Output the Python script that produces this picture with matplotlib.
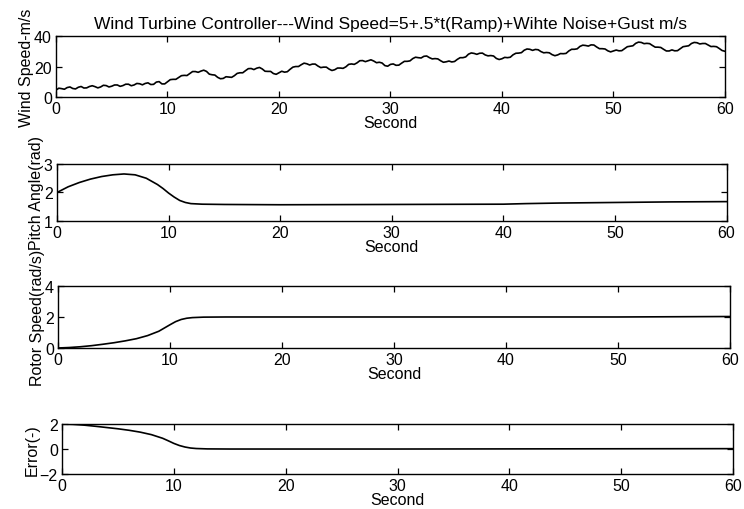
import matplotlib
matplotlib.use("Agg")
import matplotlib.pyplot as plt
import numpy as np

plt.rcParams['font.family'] = ['Liberation Sans', 'DejaVu Sans']

# ---- data ----
wind_speed = [
    4.5, 5.8, 5.5, 5.1, 6.2, 6.6, 5.6, 5.3, 6.4, 6.9, 5.9, 6.0, 6.9, 7.4, 6.8, 6.0, 6.6, 7.7, 7.5, 6.6,
    7.1, 7.9, 7.9, 7.0, 7.5, 8.4, 8.4, 7.4, 7.9, 8.9, 8.7, 8.0, 8.9, 9.3, 8.2, 8.3, 9.8, 10.1, 8.6, 8.6,
    10.0, 11.4, 11.6, 11.6, 12.8, 14.0, 14.2, 14.1, 15.4, 16.7, 16.7, 16.2, 17.0, 17.6, 16.8, 15.0, 14.6, 14.4, 12.9, 12.0,
    12.2, 13.3, 13.1, 12.9, 14.0, 15.5, 15.9, 15.9, 17.3, 18.6, 18.7, 18.0, 18.9, 19.4, 18.4, 16.9, 16.8, 16.8, 15.4, 14.9,
    15.9, 16.9, 16.3, 16.6, 18.2, 19.6, 20.0, 20.0, 21.2, 22.2, 21.8, 21.0, 21.6, 21.6, 20.3, 19.3, 19.6, 19.6, 18.3, 17.4,
    17.9, 19.0, 19.0, 18.8, 19.8, 21.4, 21.7, 21.4, 22.4, 23.8, 23.9, 23.2, 23.8, 24.4, 23.6, 22.5, 22.8, 22.3, 20.6, 20.2,
    21.4, 21.7, 20.8, 20.9, 22.2, 23.4, 23.4, 23.7, 25.2, 26.1, 25.8, 25.6, 26.7, 26.9, 25.8, 25.0, 25.2, 25.0, 23.8, 22.8,
    23.1, 23.6, 23.0, 23.3, 24.7, 25.8, 25.8, 26.3, 28.1, 28.9, 28.6, 28.0, 28.7, 28.8, 27.6, 27.0, 27.2, 26.9, 25.3, 24.6,
    25.1, 26.0, 25.8, 26.1, 27.7, 28.7, 28.8, 29.1, 30.7, 31.5, 31.3, 30.6, 31.2, 31.0, 29.8, 29.0, 29.2, 29.0, 27.8, 27.1,
    27.6, 28.5, 28.4, 28.6, 30.2, 31.3, 31.3, 31.6, 33.2, 34.0, 33.8, 33.4, 34.2, 34.1, 32.8, 31.7, 31.7, 31.5, 30.3, 29.6,
    30.2, 30.8, 30.3, 30.4, 31.7, 33.0, 33.3, 33.6, 35.2, 36.0, 35.8, 35.0, 35.2, 35.0, 33.8, 32.7, 32.7, 32.5, 31.3, 30.2,
    30.2, 30.9, 30.3, 30.4, 31.7, 33.0, 33.3, 33.6, 35.1, 35.8, 35.6, 34.8, 35.1, 35.1, 34.1, 33.1, 33.2, 33.0, 31.8, 30.5,
    30.0,
]
wind_t = list(np.linspace(0, 60, len(wind_speed)))

pitch_t = [0, 1, 2, 3, 4, 5, 6, 7, 8, 9, 9.5, 10, 10.5, 11, 11.5, 12, 13, 15, 20, 30, 40, 42, 45, 50, 55, 60]
pitch_angle = [2.0, 2.2, 2.35, 2.47, 2.56, 2.62, 2.65, 2.62, 2.5, 2.28, 2.14, 1.98, 1.84, 1.72, 1.65, 1.61, 1.59, 1.58, 1.57, 1.58, 1.59, 1.61, 1.63, 1.65, 1.67, 1.68]

rotor_t = [0, 1, 2, 3, 4, 5, 6, 7, 8, 9, 10, 10.5, 11, 11.5, 12, 13, 15, 20, 30, 40, 50, 60]
rotor_speed = [0.0, 0.03, 0.08, 0.15, 0.24, 0.34, 0.46, 0.6, 0.8, 1.08, 1.5, 1.7, 1.84, 1.92, 1.96, 1.99, 2.0, 2.0, 2.0, 2.0, 2.0, 2.03]

error_t = [0, 1, 2, 3, 4, 5, 6, 7, 8, 9, 9.5, 10, 10.5, 11, 11.5, 12, 13, 15, 20, 30, 40, 50, 60]
error = [2.0, 1.97, 1.91, 1.82, 1.72, 1.62, 1.5, 1.35, 1.15, 0.86, 0.66, 0.45, 0.28, 0.16, 0.08, 0.04, 0.01, 0.0, 0.0, 0.0, 0.01, 0.02, 0.03]

x_ticks = [0, 10, 20, 30, 40, 50, 60]
title = "Wind Turbine Controller---Wind Speed=5+.5*t(Ramp)+Wihte Noise+Gust m/s"

panels = [
    (wind_t, wind_speed, "Wind Speed-m/s", (0, 40), [0, 20, 40]),
    (pitch_t, pitch_angle, "Pitch Angle(rad)", (1, 3), [1, 2, 3]),
    (rotor_t, rotor_speed, "Rotor Speed(rad/s)", (0, 4), [0, 2, 4]),
    (error_t, error, "Error(-)", (-2, 2), [-2, 0, 2]),
]

# axes boxes in figure fraction (left, bottom, width, height)
boxes = [
    (0.0753, 0.8078, 0.899, 0.1196),
    (0.0766, 0.5647, 0.900, 0.1118),
    (0.0780, 0.3157, 0.903, 0.1216),
    (0.0833, 0.0686, 0.902, 0.0980),
]

fig = plt.figure(figsize=(7.44, 5.10), dpi=100)
fs = 11.5
for i, ((t, v, ylab, ylim, yt), box) in enumerate(zip(panels, boxes)):
    ax = fig.add_axes(box)
    ax.plot(t, v, color='black', lw=1.2)
    ax.set_xlim(0, 60)
    ax.set_ylim(*ylim)
    ax.set_xticks(x_ticks)
    ax.set_yticks(yt)
    ax.tick_params(direction='in', top=True, right=True, labelsize=fs,
                   length=4, width=0.9)
    ax.tick_params(axis='x', pad=3)
    ax.tick_params(axis='y', pad=3)
    ax.set_xlabel("Second", fontsize=fs, labelpad=-1)
    ax.set_ylabel(ylab, fontsize=fs, labelpad=0)
    for s in ax.spines.values():
        s.set_linewidth(1.0)
    if i == 0:
        ax.set_title(title, fontsize=12.5, pad=6)

fig.savefig("out.png", dpi=100)
